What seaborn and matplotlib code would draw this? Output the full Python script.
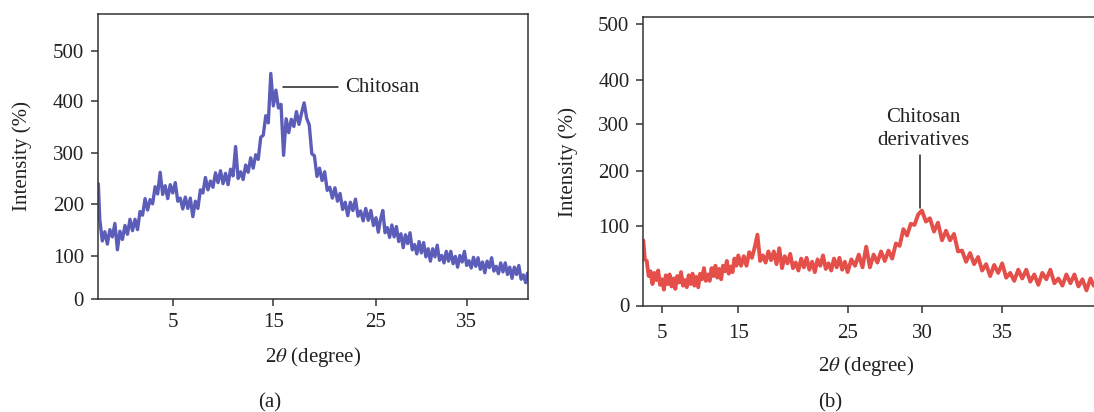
import numpy as np
import pandas as pd
import matplotlib
matplotlib.use("Agg")
import matplotlib.pyplot as plt
import seaborn as sns

# ---------------- data ----------------
theta_a = [-2.4, -2.25, -2.0, -1.75, -1.5, -1.25, -1.0, -0.75, -0.5, -0.25,
           0.0, 0.25, 0.5, 0.75, 1.0, 1.25, 1.5, 1.75, 2.0, 2.25, 2.5, 2.75,
           3.0, 3.25, 3.5, 3.75, 4.0, 4.25, 4.5, 4.75, 5.0, 5.25, 5.5, 5.75,
           6.0, 6.25, 6.5, 6.75, 7.0, 7.25, 7.5, 7.75, 8.0, 8.25, 8.5, 8.75,
           9.0, 9.25, 9.5, 9.75, 10.0, 10.25, 10.5, 10.75, 11.0, 11.25, 11.5,
           11.75, 12.0, 12.25, 12.5, 12.75, 13.0, 13.25, 13.5, 13.75, 14.0,
           14.25, 14.5, 14.75, 15.0, 15.25, 15.5, 15.75, 16.0, 16.25, 16.5,
           16.75, 17.0, 17.25, 17.5, 17.75, 18.0, 18.25, 18.5, 18.75, 19.0,
           19.25, 19.5, 19.75, 20.0, 20.25, 20.5, 20.75, 21.0, 21.25, 21.5,
           21.75, 22.0, 22.25, 22.5, 22.75, 23.0, 23.25, 23.5, 23.75, 24.0,
           24.25, 24.5, 24.75, 25.0, 25.25, 25.5, 25.75, 26.0, 26.25, 26.5,
           26.75, 27.0, 27.25, 27.5, 27.75, 28.0, 28.25, 28.5, 28.75, 29.0,
           29.25, 29.5, 29.75, 30.0, 30.25, 30.5, 30.75, 31.0, 31.25, 31.5,
           31.75, 32.0, 32.25, 32.5, 32.75, 33.0, 33.25, 33.5, 33.75, 34.0,
           34.25, 34.5, 34.75, 35.0, 35.25, 35.5, 35.75, 36.0, 36.25, 36.5,
           36.75, 37.0, 37.25, 37.5, 37.75, 38.0, 38.25, 38.5, 38.75, 39.0,
           39.25, 39.5, 39.75, 40.0, 40.25, 40.5, 40.75, 41.0, 41.25, 41.5,
           41.7]
intensity_a = [240, 170, 129, 147, 123, 151, 137, 163, 112, 148,
               132, 159, 142, 171, 149, 171, 151, 186, 179, 211, 189, 209,
               201, 234, 220, 262, 219, 236, 211, 238, 222, 242, 206, 212,
               191, 214, 192, 212, 176, 206, 192, 228, 222, 252, 228, 245,
               233, 261, 242, 265, 240, 260, 238, 268, 255, 312, 250,
               263, 248, 276, 262, 290, 270, 296, 287, 330, 334,
               372, 358, 455, 391, 422, 387, 394, 295, 366, 339,
               365, 351, 380, 355, 377, 397, 367, 354, 298, 294,
               254, 270, 246, 263, 227, 233, 212, 232, 206, 221,
               190, 204, 178, 204, 188, 210, 177, 187, 168, 192,
               169, 188, 159, 174, 146, 171, 188, 145, 155, 136,
               160, 137, 157, 128, 143, 116, 141, 124, 145, 112,
               122, 104, 128, 106, 126, 98, 114, 88, 114, 98,
               121, 90, 101, 84, 109, 88, 109, 82, 99, 74,
               101, 86, 109, 78, 89, 72, 97, 76, 96, 69,
               86, 61, 88, 73, 96, 65, 76, 59, 84, 63,
               84, 57, 74, 48, 74, 57, 78, 46, 56, 38,
               60]

theta_b = [2.55, 2.75, 3.0, 3.25, 3.5, 3.75, 4.0, 4.25, 4.5, 4.75, 5.0,
           5.25, 5.5, 5.75, 6.0, 6.25, 6.5, 6.75, 7.0, 7.25, 7.5, 7.75, 8.0,
           8.25, 8.5, 8.75, 9.0, 9.25, 9.5, 9.75, 10.0, 10.25, 10.5, 10.75,
           11.0, 11.25, 11.5, 11.75, 12.0, 12.25, 12.5, 12.75, 13.0, 13.25,
           13.5, 13.75, 14.0, 14.25, 14.5, 14.75, 15.0, 15.25, 15.5, 15.75,
           16.0, 16.25, 16.5, 16.75, 17.0, 17.25, 17.5, 17.75, 18.0, 18.25,
           18.5, 18.75, 19.0, 19.25, 19.5, 19.75, 20.0, 20.25, 20.5, 20.75,
           21.0, 21.25, 21.5, 21.75, 22.0, 22.25, 22.5, 22.75, 23.0, 23.25,
           23.5, 23.75, 24.0, 24.25, 24.5, 24.75, 25.0, 25.25, 25.5, 25.75,
           26.0, 26.25, 26.5, 26.75, 27.0, 27.25, 27.5, 27.75, 28.0, 28.25,
           28.5, 28.75, 29.0, 29.25, 29.5, 29.75, 30.0, 30.25, 30.5, 30.75,
           31.0, 31.25, 31.5, 31.75, 32.0, 32.25, 32.5, 32.75, 33.0, 33.25,
           33.5, 33.75, 34.0, 34.25, 34.5, 34.75, 35.0, 35.25, 35.5, 35.75,
           36.0, 36.25, 36.5, 36.75, 37.0, 37.25, 37.5, 37.75, 38.0, 38.25,
           38.5, 38.75, 39.0, 39.25, 39.5, 39.75, 40.0, 40.25, 40.5, 40.7]
intensity_b = [82, 58, 56, 37, 43, 27, 41, 32, 44, 26, 33,
               20, 38, 27, 39, 24, 34, 21, 37, 29, 42, 25, 32,
               23, 38, 27, 40, 25, 36, 23, 40, 33, 47, 31,
               39, 31, 47, 37, 50, 35, 46, 33, 50, 43,
               56, 40, 49, 42, 59, 50, 63, 50, 62, 50,
               67, 60, 73, 89, 56, 63, 54, 68, 57, 68,
               52, 72, 47, 62, 53, 65, 47, 54, 44, 59,
               48, 60, 45, 55, 42, 58, 50, 63, 46, 53,
               44, 59, 48, 60, 45, 55, 42, 58, 50, 64,
               48, 74, 48, 64, 54, 68, 56, 69, 59, 78,
               75, 96, 88, 104, 102, 121, 128, 108, 114, 93,
               106, 82, 94, 82, 90, 68, 69, 55, 66, 52,
               61, 44, 52, 37, 51, 41, 53, 35, 41, 31,
               45, 34, 45, 30, 39, 26, 41, 33, 45, 28,
               34, 25, 39, 28, 39, 24, 33, 19, 34, 25]

x_ticks_a = [5, 15, 25, 35]
x_ticks_b = [5, 15, 25, 30, 35]
y_ticks = [0, 100, 200, 300, 400, 500]

# axis calibration (the printed axes are not evenly spaced): value -> position
xa_vals = [-12, 5, 15, 25, 35, 52]
xa_pos = [1.7, 172.7, 273.3, 376.0, 466.7, 620.9]
ya_vals = [-100, 0, 100, 200, 300, 400, 500, 700]
ya_pos = [58.0, 101.0, 144.0, 195.7, 247.3, 298.7, 349.3, 450.5]
xb_vals = [-10, 5, 15, 25, 30, 35, 55]
xb_pos = [547.5, 662.0, 738.3, 847.7, 922.0, 1002.3, 1323.5]
yb_vals = [-100, 0, 100, 200, 300, 400, 500, 700]
yb_pos = [15.0, 94.5, 174.0, 229.0, 276.3, 320.0, 376.0, 488.0]


def knot_scale(vals, pos):
    v = np.asarray(vals, float)
    p = np.asarray(pos, float)

    def fwd(a):
        return np.interp(a, v, p)

    def inv(a):
        return np.interp(a, p, v)
    return (fwd, inv)


sns.set_theme(style="ticks")
plt.rcParams['font.family'] = ['Liberation Serif', 'DejaVu Serif']
plt.rcParams['mathtext.fontset'] = 'stix'

W, H = 1094, 412
fig = plt.figure(figsize=(W / 100, H / 100), dpi=100)
ax1 = fig.add_axes([98 / W, 113 / H, 430 / W, 285 / H])
ax2 = fig.add_axes([643.3 / W, 106.5 / H, 452 / W, 288.8 / H])

df_a = pd.DataFrame({"theta": theta_a, "intensity": intensity_a})
df_b = pd.DataFrame({"theta": theta_b, "intensity": intensity_b})

sns.lineplot(data=df_a, x="theta", y="intensity", ax=ax1, color="#3F41AC",
             linewidth=2.4, alpha=0.85)
sns.lineplot(data=df_b, x="theta", y="intensity", ax=ax2, color="#E0302A",
             linewidth=2.8, alpha=0.85)

ax1.set_xscale('function', functions=knot_scale(xa_vals, xa_pos))
ax1.set_yscale('function', functions=knot_scale(ya_vals, ya_pos))
ax2.set_xscale('function', functions=knot_scale(xb_vals, xb_pos))
ax2.set_yscale('function', functions=knot_scale(yb_vals, yb_pos))

ax1.set_xlim(-2.43, 41.76)
ax1.set_ylim(0, 572.5)
ax2.set_xlim(2.55, 40.8)
ax2.set_ylim(0, 513)

ax1.set_xticks(x_ticks_a, [str(t) for t in x_ticks_a])
ax2.set_xticks(x_ticks_b, [str(t) for t in x_ticks_b])
for ax in (ax1, ax2):
    ax.set_yticks(y_ticks, [str(t) for t in y_ticks])
    ax.minorticks_off()
    ax.tick_params(axis='both', direction='out', length=5, width=1.1,
                   color='#333333', labelsize=15, labelcolor='#222222', pad=5)
    for s in ax.spines.values():
        s.set_color('#333333')
        s.set_linewidth(1.1)
    ax.set_facecolor('white')
ax2.spines['right'].set_visible(False)
ax2.tick_params(axis='x', pad=8)

lab_kw = dict(fontsize=15, color='#222222')
ax1.set_xlabel(r"2$\theta$ (degree)", **lab_kw)
ax1.set_ylabel("Intensity (%)", **lab_kw)
ax2.set_xlabel(r"2$\theta$ (degree)", **lab_kw)
ax2.set_ylabel("Intensity (%)", **lab_kw)
ax1.xaxis.set_label_coords(0.5, -0.2035)
ax1.yaxis.set_label_coords(-0.1767, 0.502)
ax2.xaxis.set_label_coords(0.492, -0.209)
ax2.yaxis.set_label_coords(-0.167, 0.497)
for lab in (ax1.xaxis.label, ax2.xaxis.label, ax1.yaxis.label, ax2.yaxis.label):
    lab.set_va('center')
    lab.set_ha('center')

# annotations
ax1.plot([15.94, 21.3], [428, 428], color='#222222', linewidth=1.1)
ax1.text(22.0, 428, "Chitosan", fontsize=15, color='#222222',
         ha='left', va='center')
ax2.plot([29.9, 29.9], [133, 234], color='#222222', linewidth=1.1)
ax2.text(30.06, 289, "Chitosan\nderivatives", fontsize=15, color='#222222',
         ha='center', va='center', linespacing=1.25)

fig.text(270 / W, 1 - 403 / H, "(a)", fontsize=15, color='#222222',
         ha='center', va='center')
fig.text(830 / W, 1 - 403 / H, "(b)", fontsize=15, color='#222222',
         ha='center', va='center')

fig.savefig("out.png", dpi=100, facecolor='white')
